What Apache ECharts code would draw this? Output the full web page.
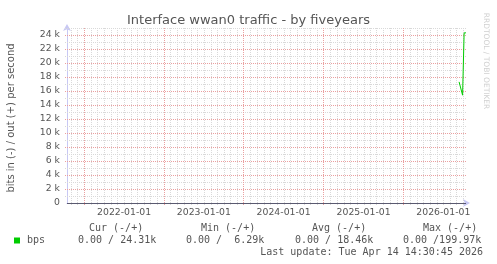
<!DOCTYPE html>
<html><head><meta charset="utf-8">
<script src="https://cdn.jsdelivr.net/npm/echarts@6/dist/echarts.min.js"></script>
<style>html,body{margin:0;padding:0;background:#fff}#c{width:497px;height:264px}</style>
</head><body><div id="c"></div>
<script>
const chartTitle = 'Interface wwan0 traffic - by fiveyears';
const yAxisTitle = 'bits in (-) / out (+) per second';
const sideText = 'RRDTOOL / TOBI OETIKER';
const rangeStart = '2021-04-14T14:30:45Z';
const rangeEnd = '2026-04-14T14:30:45Z';
const xLabelDates = ['2022-01-01', '2023-01-01', '2024-01-01', '2025-01-01', '2026-01-01'];
const xMajorGridDates = ['2021-07-01', '2022-07-01', '2023-07-01', '2024-07-01', '2025-07-01'];
const yLabelStep = 2000;
const yMinorStep = 1000;
const yMax = 25000;
const outTimes = ['2026-03-14T00:00:00Z', '2026-03-20T00:00:00Z', '2026-03-30T00:00:00Z', '2026-04-06T00:00:00Z', '2026-04-14T14:30:45Z'];
const outValues = [17300, 17300, 15400, 24300, 24310];
const seriesName = 'bps';
const statNames = ['Cur (-/+)', 'Min (-/+)', 'Avg (-/+)', 'Max (-/+)'];
const statIn = ['0.00', '0.00', '0.00', '0.00'];
const statOut = ['24.31k', '6.29k', '18.46k', '199.97k'];
const lastUpdate = 'Last update: Tue Apr 14 14:30:45 2026';

const ms = s => new Date(s.length === 10 ? s + 'T00:00:00Z' : s).getTime();
const xMin = ms(rangeStart), xMax = ms(rangeEnd);
// monthly minor grid positions (skip July, which carries the major line)
const minorMonths = [];
{
  const d0 = new Date(xMin);
  let y = d0.getUTCFullYear(), m = d0.getUTCMonth() + 1;
  while (true) {
    const t = Date.UTC(y, m, 1);
    if (t > xMax) break;
    if (m !== 6) minorMonths.push(t);
    m++; if (m > 11) { m = 0; y++; }
  }
}
const yMajorLines = [], yMinorLines = [];
for (let v = yMinorStep; v <= yMax; v += yMinorStep) (v % yLabelStep === 0 ? yMajorLines : yMinorLines).push(v);

const pad2 = n => String(n).padStart(2, '0');
const fmtDate = v => { const d = new Date(v); return d.getUTCFullYear() + '-' + pad2(d.getUTCMonth() + 1) + '-' + pad2(d.getUTCDate()); };

const FONT = 'DejaVu Sans';
const MONO = 'DejaVu Sans Mono';
const TXT = '#555';
const RED = '#eaa0a0';
const GRAY = '#d9d9d9';

const chart = echarts.init(document.getElementById('c'), null, { renderer: 'canvas' });

const colStart = [89, 201, 312, 423];
const valStart = [78, 186, 295, 403];
const graphics = [
  { type: 'text', x: 11, y: 118, rotation: Math.PI / 2,
    style: { text: yAxisTitle, font: '10px "' + FONT + '"', fill: TXT, align: 'center', verticalAlign: 'middle' } },
  { type: 'text', x: 486, y: 61, rotation: -Math.PI / 2,
    style: { text: sideText, font: '7.5px "' + FONT + '"', fill: '#d0d0d0', align: 'center', verticalAlign: 'middle' } },
  { type: 'rect', shape: { x: 14, y: 237.5, width: 6, height: 6 }, style: { fill: '#00cc00' } },
  { type: 'text', x: 27, y: 240.5, style: { text: seriesName, font: '10px "' + MONO + '"', fill: TXT, verticalAlign: 'middle' } },
  { type: 'text', x: 483, y: 252, style: { text: lastUpdate, font: '10px "' + MONO + '"', fill: TXT, align: 'right', verticalAlign: 'middle' } }
];
statNames.forEach((n, i) => {
  graphics.push({ type: 'text', x: colStart[i], y: 228.5, style: { text: n, font: '10px "' + MONO + '"', fill: TXT, verticalAlign: 'middle' } });
  graphics.push({ type: 'text', x: valStart[i], y: 240.5, style: { text: statIn[i] + ' /' + statOut[i].padStart(7, ' '), font: '10px "' + MONO + '"', fill: TXT, verticalAlign: 'middle' } });
});

// grid lines drawn through the axes' scales, snapped to crisp pixels
const gridSeries = (values, vertical, color, z) => ({
  type: 'custom', xAxisIndex: 0, yAxisIndex: 0, silent: true, z: z, clip: false,
  encode: { x: 0, y: 1 },
  data: values.map(v => vertical ? [v, 0] : [xMin, v]),
  renderItem: (params, api) => {
    const cs = params.coordSys;
    const p = api.coord([api.value(0), api.value(1)]);
    if (vertical) {
      const x = Math.round(p[0]) + 0.5;
      return { type: 'line', shape: { x1: x, y1: cs.y, x2: x, y2: cs.y + cs.height + 3 }, style: { stroke: color, lineWidth: 1, lineDash: [1, 1] } };
    }
    const y = Math.round(p[1]) + 0.5;
    return { type: 'line', shape: { x1: cs.x - 2, y1: y, x2: cs.x + cs.width, y2: y }, style: { stroke: color, lineWidth: 1, lineDash: [1, 1] } };
  }
});

chart.setOption({
  animation: false,
  backgroundColor: '#fff',
  title: { text: chartTitle, left: 'center', top: 9, textStyle: { fontFamily: FONT, fontSize: 13, fontWeight: 'normal', color: TXT } },
  grid: { left: 67, right: 31, top: 28, bottom: 61, containLabel: false },
  xAxis: [
    { type: 'value', min: xMin, max: xMax, position: 'bottom',
      axisLine: { show: true, onZero: false, lineStyle: { color: '#c8c8f4', width: 1 }, symbol: ['none', 'arrow'], symbolSize: [6, 7], symbolOffset: [0, 4] },
      axisTick: { show: false },
      axisLabel: { show: true, interval: 0, customValues: xLabelDates.map(ms), formatter: v => fmtDate(v), fontFamily: FONT, fontSize: 9.3, color: TXT, margin: 5 },
      splitLine: { show: false } }
  ],
  yAxis: [
    { type: 'value', min: 0, max: yMax, interval: yLabelStep, position: 'left',
      axisLine: { show: true, onZero: false, lineStyle: { color: '#c8c8f4', width: 1 }, symbol: ['none', 'arrow'], symbolSize: [6, 7], symbolOffset: [0, 4] },
      axisTick: { show: false },
      axisLabel: { show: true, showMaxLabel: false, formatter: v => v === 0 ? '0' : (v / 1000) + ' k', fontFamily: FONT, fontSize: 9.3, color: TXT, margin: 7 },
      splitLine: { show: false } }
  ],
  series: [
    gridSeries(yMinorLines, false, GRAY, 1),
    gridSeries(minorMonths, true, GRAY, 1),
    gridSeries(yMajorLines, false, RED, 2),
    gridSeries(xMajorGridDates.map(ms), true, RED, 2),
    { name: seriesName, type: 'line', xAxisIndex: 0, yAxisIndex: 0, showSymbol: false, symbol: 'none',
      data: outTimes.map((t, i) => [ms(t), outValues[i]]),
      lineStyle: { color: '#00cc00', width: 1 }, itemStyle: { color: '#00cc00' },
      markLine: { silent: true, symbol: 'none', label: { show: false },
        lineStyle: { color: '#5a5a70', type: 'solid', width: 1 },
        data: [{ yAxis: 0 }] },
      z: 5 }
  ],
  graphic: graphics
});
</script></body></html>
